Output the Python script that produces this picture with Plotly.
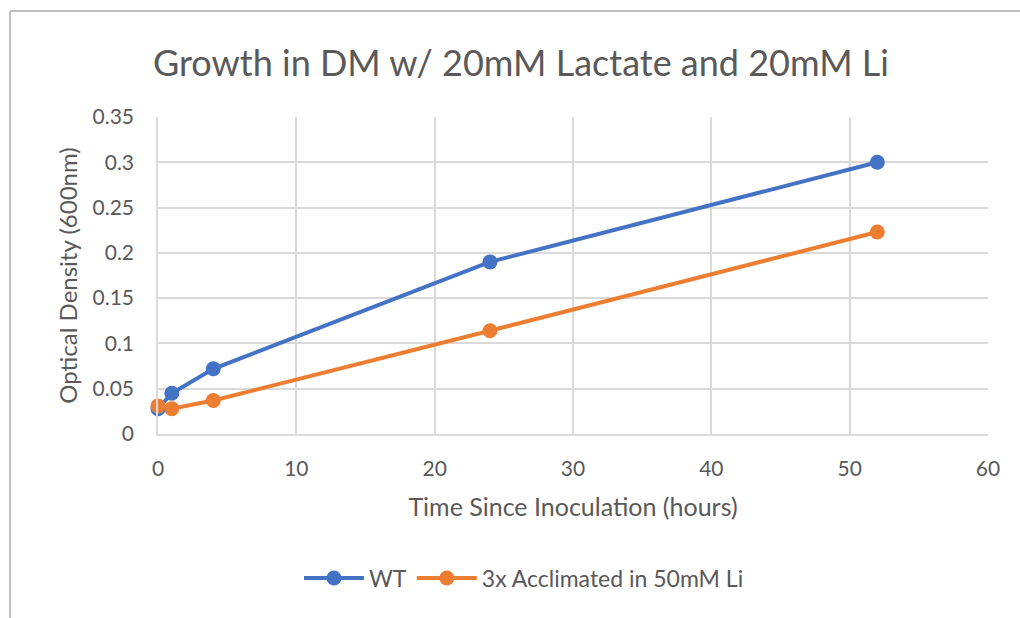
import plotly.graph_objects as go

# Sampling times (hours since inoculation)
hours = [0, 1, 4, 24, 52]

# Optical density at 600 nm
od_wt = [0.028, 0.045, 0.072, 0.190, 0.300]
od_acclimated = [0.031, 0.028, 0.037, 0.114, 0.223]

series_names = ["WT", "3x Acclimated in 50mM Li"]
series_colors = ["#4472C4", "#ED7D31"]

x_ticks = [0, 10, 20, 30, 40, 50, 60]
y_ticks = [0, 0.05, 0.1, 0.15, 0.2, 0.25, 0.3, 0.35]
y_tick_text = ["0", "0.05", "0.1", "0.15", "0.2", "0.25", "0.3", "0.35"]

FONT = "Lato, 'Open Sans', sans-serif"
TEXT = "#595959"
GRID = "#d9d9d9"

fig = go.Figure()
for name, ys, color in zip(series_names, [od_wt, od_acclimated], series_colors):
    fig.add_trace(go.Scatter(
        x=hours, y=ys, name=name, mode="lines+markers",
        line=dict(color=color, width=4),
        marker=dict(color=color, size=15),
        cliponaxis=False,
    ))

W, H = 1020, 618
L, R, T, B = 158, 32, 117, 184
pw, ph = W - L - R, H - T - B

def px_x(p):
    return (p - L) / pw

def px_y(p):
    return (H - B - p) / ph

fig.update_layout(
    width=W, height=H,
    margin=dict(l=L, r=R, t=T, b=B),
    paper_bgcolor="white", plot_bgcolor="white",
    font=dict(family=FONT, color=TEXT, size=21),
    title=dict(text="Growth in DM w/ 20mM Lactate and 20mM Li",
               x=px_x(521), xref="paper", xanchor="center",
               y=1 - 63 / H, yanchor="middle",
               font=dict(size=36, color=TEXT, family=FONT)),
    xaxis=dict(range=[0, 60], tickvals=x_ticks, showgrid=True, gridcolor=GRID,
               gridwidth=1.5, showline=True, linecolor=GRID, linewidth=1.5,
               zeroline=False, ticks="", ticklabelstandoff=15,
               tickfont=dict(size=21, color=TEXT),
               title=dict(text="Time Since Inoculation (hours)",
                          font=dict(size=25, color=TEXT), standoff=20)),
    yaxis=dict(range=[0, 0.35], tickvals=y_ticks, ticktext=y_tick_text,
               showgrid=True, gridcolor=GRID, gridwidth=1.5, showline=True,
               linecolor=GRID, linewidth=1.5, zeroline=False, ticks="",
               ticklabelstandoff=18,
               tickfont=dict(size=21, color=TEXT),
               title=dict(text="Optical Density (600nm)",
                          font=dict(size=24, color=TEXT), standoff=8)),
    legend=dict(orientation="h", x=px_x(524), xanchor="center",
                y=px_y(578), yanchor="middle",
                font=dict(size=23, color=TEXT), itemwidth=60),
    showlegend=True,
)

# Outer frame lines (top and left edges of the chart area)
frame = dict(color="#bfbfbf", width=2)
fig.add_shape(type="line", xref="paper", yref="paper",
              x0=px_x(10), x1=px_x(W + 5), y0=px_y(11), y1=px_y(11), line=frame)
fig.add_shape(type="line", xref="paper", yref="paper",
              x0=px_x(10), x1=px_x(10), y0=px_y(11), y1=px_y(H + 5), line=frame)

fig.write_html("out.html")
